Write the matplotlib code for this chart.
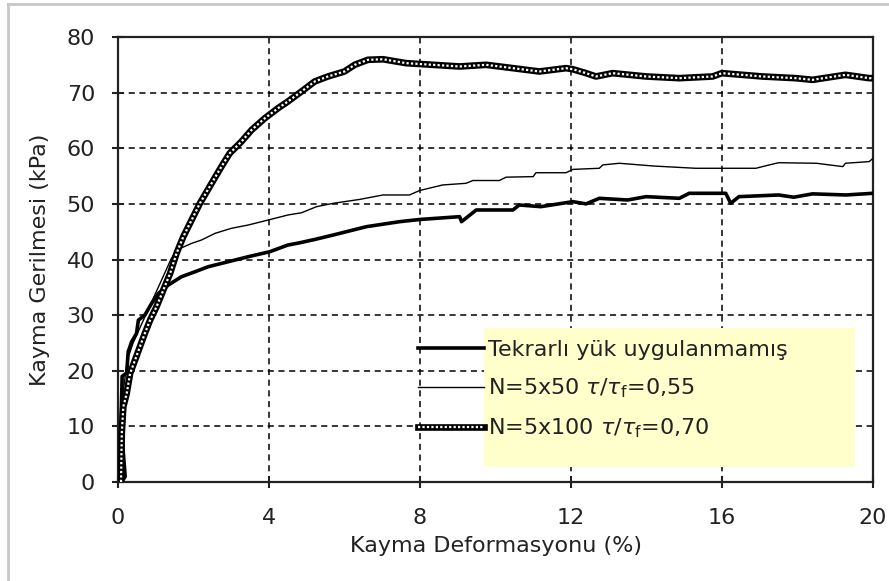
import matplotlib
matplotlib.use("Agg")
import matplotlib.pyplot as plt
from matplotlib.lines import Line2D
from matplotlib.patches import Rectangle
from matplotlib.legend_handler import HandlerTuple

plt.rcParams['font.family'] = ['DejaVu Sans']

# Series 1: Tekrarlı yük uygulanmamış (thick black)
x1 = [0.10, 0.19, 0.08, 0.11, 0.23, 0.27, 0.36, 0.49, 0.54, 0.71, 0.89, 1.07, 1.33, 1.68,
      2.04, 2.39, 2.92, 3.45, 4.02, 4.50, 4.81, 5.21, 5.70, 6.58, 7.46, 8.00, 9.05, 9.10,
      9.49, 10.46, 10.63, 11.20, 12.05, 12.40, 12.75, 13.50, 13.99, 14.87, 15.13, 16.10,
      16.23, 16.45, 17.50, 17.90, 18.40, 19.28, 20.00]
y1 = [0.0, 1.0, 10.6, 19.0, 19.6, 23.4, 25.2, 26.7, 29.1, 30.0, 32.1, 33.9, 35.4, 36.9,
      37.8, 38.7, 39.6, 40.5, 41.4, 42.6, 43.0, 43.6, 44.4, 45.9, 46.8, 47.2, 47.7, 46.8,
      48.9, 48.9, 49.8, 49.5, 50.4, 50.0, 51.0, 50.7, 51.3, 51.0, 51.9, 51.9,
      50.1, 51.3, 51.6, 51.2, 51.8, 51.6, 51.9]

# Series 2: N=5x50 tau/tau_f=0,55 (thin black)
x2 = [0.05, 0.10, 0.15, 0.25, 0.40, 0.60, 0.80, 1.00, 1.20, 1.40, 1.55, 1.95, 2.21, 2.57,
      3.00, 3.45, 3.98, 4.50, 4.86, 5.26, 5.70, 6.40, 7.02, 7.72, 7.99, 8.60, 9.22, 9.40,
      10.10, 10.28, 11.00, 11.07, 11.87, 12.05, 12.75, 12.84, 13.28, 14.20, 15.30, 16.90,
      17.25, 17.50, 18.50, 19.20, 19.27, 19.90, 20.00]
y2 = [0.0, 10.0, 17.0, 22.0, 25.0, 28.0, 31.0, 34.0, 37.0, 40.0, 41.7, 42.9, 43.5, 44.7,
      45.6, 46.2, 47.1, 48.0, 48.4, 49.5, 50.1, 50.8, 51.6, 51.6, 52.4, 53.4, 53.7, 54.2,
      54.2, 54.8, 54.9, 55.6, 55.6, 56.2, 56.4, 57.0, 57.3, 56.8, 56.4, 56.4,
      57.0, 57.4, 57.3, 56.7, 57.3, 57.6, 58.2]

# Series 3: N=5x100 tau/tau_f=0,70 (hollow-square chain)
x3 = [0.08, 0.10, 0.14, 0.23, 0.32, 0.45, 0.58, 0.71, 0.85, 1.02, 1.20, 1.38, 1.55, 1.73,
      1.95, 2.17, 2.48, 2.74, 2.96, 3.27, 3.54, 3.89, 4.24, 4.50, 4.86, 5.21, 5.56, 6.00,
      6.27, 6.62, 7.02, 7.63, 8.34, 9.05, 9.75, 10.46, 11.16, 11.87, 12.05, 12.40, 12.66,
      13.10, 14.00, 14.87, 15.75, 16.00, 17.07, 17.95, 18.40, 19.27, 19.90, 20.00]
y3 = [0.0, 8.7, 13.5, 15.9, 19.5, 21.9, 24.3, 26.7, 29.1, 31.5, 34.5, 37.5, 41.1, 44.1,
      47.1, 50.1, 53.7, 56.7, 59.1, 61.2, 63.3, 65.4, 67.2, 68.4, 70.2, 72.0, 72.9, 73.8,
      75.0, 75.9, 76.0, 75.3, 75.0, 74.7, 75.0, 74.4, 73.8, 74.4, 74.2, 73.5, 72.9,
      73.5, 72.9, 72.6, 72.9, 73.5, 72.9, 72.6, 72.3, 73.2, 72.6, 72.6]

labels = ["Tekrarlı yük uygulanmamış",
          "N=5x50 $\\tau$/$\\tau_\\mathregular{f}$=0,55",
          "N=5x100 $\\tau$/$\\tau_\\mathregular{f}$=0,70"]
xticks = [0, 4, 8, 12, 16, 20]
yticks = [0, 10, 20, 30, 40, 50, 60, 70, 80]

W, H = 889, 581
fig = plt.figure(figsize=(W / 100, H / 100), dpi=100)
fig.patch.set_facecolor('white')
ax = fig.add_axes([118 / W, 1 - 482 / H, (873 - 118) / W, (482 - 37) / H])

fs = 16
tc = '#222222'
l1, = ax.plot(x1, y1, color='black', lw=2.6, zorder=4)
l2, = ax.plot(x2, y2, color='black', lw=1.0, zorder=4)
l3a, = ax.plot(x3, y3, color='black', lw=4.8, zorder=4)
l3b, = ax.plot(x3, y3, color='white', lw=1.6, dashes=(1.0, 1.0), zorder=4)

ax.set_xlim(0, 20)
ax.set_ylim(0, 80)
ax.set_xticks(xticks)
ax.set_yticks(yticks)
ax.set_xticklabels([str(t) for t in xticks])
ax.set_yticklabels([str(t) for t in yticks])
ax.tick_params(direction='inout', length=9, width=1.5, colors=tc,
               labelsize=fs, labelcolor=tc)
ax.tick_params(axis='x', pad=14)
ax.tick_params(axis='y', pad=12)
ax.grid(True, color='black', lw=1.1, linestyle=(0, (4, 3)), zorder=1)
ax.set_axisbelow(True)
for s in ax.spines.values():
    s.set_linewidth(1.6)
    s.set_color(tc)

ax.set_xlabel("Kayma Deformasyonu (%)", fontsize=fs, color=tc, labelpad=6)
ax.set_ylabel("Kayma Gerilmesi (kPa)", fontsize=fs, color=tc, labelpad=12)

# yellow legend box
rect = Rectangle((484 / W, 1 - 467 / H), (855 - 484) / W, (467 - 328) / H,
                 transform=fig.transFigure, facecolor='#FFFFCC', edgecolor='none', zorder=3)
ax.add_patch(rect)

leg = ax.legend([l1, l2, (l3a, l3b)], labels,
                handler_map={tuple: HandlerTuple(ndivide=1, pad=0)},
                loc='upper left', bbox_to_anchor=(418 / W, 1 - 340 / H),
                bbox_transform=fig.transFigure, frameon=False, fontsize=fs,
                handlelength=2.95, handletextpad=0.2, labelspacing=0.74,
                borderpad=0, borderaxespad=0)
leg.set_zorder(5)
for t in leg.get_texts():
    t.set_color(tc)

# outer chart-area border (top and left)
fig.add_artist(Line2D([8 / W, 1], [1 - 4 / H, 1 - 4 / H], transform=fig.transFigure,
                      color='#c8c8c8', lw=2))
fig.add_artist(Line2D([8 / W, 8 / W], [0, 1 - 4 / H], transform=fig.transFigure,
                      color='#c8c8c8', lw=2))

fig.savefig('out.png', dpi=100)
